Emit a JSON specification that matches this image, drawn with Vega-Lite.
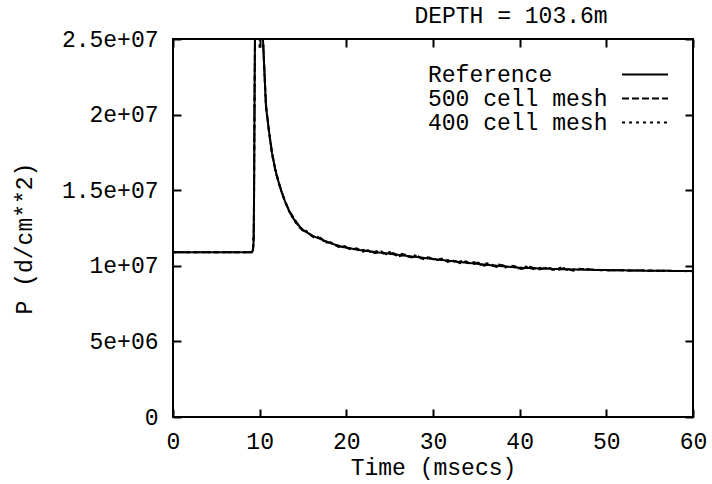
{
  "$schema": "https://vega.github.io/schema/vega-lite/v6.json",
  "width": 520,
  "height": 378,
  "autosize": "none",
  "padding": {"left": 173, "top": 39, "right": 19, "bottom": 67},
  "background": "white",
  "config": {
    "view": {"stroke": "black", "strokeWidth": 2},
    "font": "Liberation Mono",
    "axis": {"grid": false, "domain": false, "tickColor": "black", "tickWidth": 2, "tickSize": -8, "labelColor": "black", "titleColor": "black", "labelFont": "Liberation Mono", "titleFont": "Liberation Mono", "labelFontSize": 23, "titleFontSize": 23, "titleFontWeight": "normal", "labelFlush": false, "labelOverlap": false}
  },
  "title": {"text": "DEPTH = 103.6m", "anchor": "middle", "dx": 78, "offset": 0, "font": "Liberation Mono", "fontSize": 23, "fontWeight": "normal", "color": "black"},
  "data": {"values": [
    {"series": "Reference", "t": 0, "P": 10900000},
    {"series": "Reference", "t": 9.1, "P": 10900000},
    {"series": "Reference", "t": 9.22, "P": 11000000},
    {"series": "Reference", "t": 9.3, "P": 11600000},
    {"series": "Reference", "t": 9.36, "P": 15000000},
    {"series": "Reference", "t": 9.42, "P": 22000000},
    {"series": "Reference", "t": 9.5, "P": 29000000},
    {"series": "Reference", "t": 9.7, "P": 34000000},
    {"series": "Reference", "t": 10.15, "P": 32000000},
    {"series": "Reference", "t": 10.28, "P": 27000000},
    {"series": "Reference", "t": 10.38, "P": 25000000},
    {"series": "Reference", "t": 10.73, "P": 20500000},
    {"series": "Reference", "t": 11.08, "P": 18900000},
    {"series": "Reference", "t": 11.42, "P": 17450000},
    {"series": "Reference", "t": 11.85, "P": 16250000},
    {"series": "Reference", "t": 12.35, "P": 15200000},
    {"series": "Reference", "t": 12.9, "P": 14300000},
    {"series": "Reference", "t": 13.5, "P": 13500000},
    {"series": "Reference", "t": 14.2, "P": 12850000},
    {"series": "Reference", "t": 15.0, "P": 12370000},
    {"series": "Reference", "t": 16.1, "P": 11980000},
    {"series": "Reference", "t": 17.3, "P": 11700000},
    {"series": "Reference", "t": 18.4, "P": 11450000},
    {"series": "Reference", "t": 19.6, "P": 11240000},
    {"series": "Reference", "t": 21.5, "P": 11040000},
    {"series": "Reference", "t": 23.5, "P": 10900000},
    {"series": "Reference", "t": 26.2, "P": 10710000},
    {"series": "Reference", "t": 29.5, "P": 10480000},
    {"series": "Reference", "t": 33.1, "P": 10250000},
    {"series": "Reference", "t": 36.5, "P": 10050000},
    {"series": "Reference", "t": 40.0, "P": 9870000},
    {"series": "Reference", "t": 44.5, "P": 9780000},
    {"series": "Reference", "t": 49.3, "P": 9720000},
    {"series": "Reference", "t": 54.5, "P": 9680000},
    {"series": "Reference", "t": 60.0, "P": 9650000},

    {"series": "500 cell mesh", "t": 0, "P": 10900000},
    {"series": "500 cell mesh", "t": 9.1, "P": 10900000},
    {"series": "500 cell mesh", "t": 9.24, "P": 11100000},
    {"series": "500 cell mesh", "t": 9.32, "P": 12000000},
    {"series": "500 cell mesh", "t": 9.4, "P": 20000000},
    {"series": "500 cell mesh", "t": 9.5, "P": 28000000},
    {"series": "500 cell mesh", "t": 9.8, "P": 31000000},
    {"series": "500 cell mesh", "t": 10.2, "P": 30000000},
    {"series": "500 cell mesh", "t": 10.38, "P": 25000000},
    {"series": "500 cell mesh", "t": 10.73, "P": 20700000},
    {"series": "500 cell mesh", "t": 11.08, "P": 18800000},
    {"series": "500 cell mesh", "t": 11.42, "P": 17550000},
    {"series": "500 cell mesh", "t": 11.85, "P": 16150000},
    {"series": "500 cell mesh", "t": 12.35, "P": 15250000},
    {"series": "500 cell mesh", "t": 12.9, "P": 14250000},
    {"series": "500 cell mesh", "t": 13.5, "P": 13550000},
    {"series": "500 cell mesh", "t": 14.2, "P": 12930000},
    {"series": "500 cell mesh", "t": 14.9, "P": 12350000},
    {"series": "500 cell mesh", "t": 15.6, "P": 12200000},
    {"series": "500 cell mesh", "t": 16.3, "P": 11840000},
    {"series": "500 cell mesh", "t": 17.0, "P": 11850000},
    {"series": "500 cell mesh", "t": 17.7, "P": 11540000},
    {"series": "500 cell mesh", "t": 18.4, "P": 11530000},
    {"series": "500 cell mesh", "t": 19.1, "P": 11250000},
    {"series": "500 cell mesh", "t": 19.8, "P": 11300000},
    {"series": "500 cell mesh", "t": 20.5, "P": 11060000},
    {"series": "500 cell mesh", "t": 21.2, "P": 11150000},
    {"series": "500 cell mesh", "t": 21.9, "P": 10930000},
    {"series": "500 cell mesh", "t": 22.6, "P": 11040000},
    {"series": "500 cell mesh", "t": 23.3, "P": 10830000},
    {"series": "500 cell mesh", "t": 24.0, "P": 10950000},
    {"series": "500 cell mesh", "t": 24.7, "P": 10740000},
    {"series": "500 cell mesh", "t": 25.4, "P": 10850000},
    {"series": "500 cell mesh", "t": 26.1, "P": 10640000},
    {"series": "500 cell mesh", "t": 26.8, "P": 10750000},
    {"series": "500 cell mesh", "t": 27.5, "P": 10550000},
    {"series": "500 cell mesh", "t": 28.2, "P": 10650000},
    {"series": "500 cell mesh", "t": 28.9, "P": 10440000},
    {"series": "500 cell mesh", "t": 29.6, "P": 10550000},
    {"series": "500 cell mesh", "t": 30.3, "P": 10350000},
    {"series": "500 cell mesh", "t": 31.0, "P": 10470000},
    {"series": "500 cell mesh", "t": 31.7, "P": 10260000},
    {"series": "500 cell mesh", "t": 32.4, "P": 10380000},
    {"series": "500 cell mesh", "t": 33.1, "P": 10170000},
    {"series": "500 cell mesh", "t": 33.8, "P": 10290000},
    {"series": "500 cell mesh", "t": 34.5, "P": 10090000},
    {"series": "500 cell mesh", "t": 35.2, "P": 10210000},
    {"series": "500 cell mesh", "t": 35.9, "P": 10010000},
    {"series": "500 cell mesh", "t": 36.6, "P": 10130000},
    {"series": "500 cell mesh", "t": 37.3, "P": 9930000},
    {"series": "500 cell mesh", "t": 38.0, "P": 10050000},
    {"series": "500 cell mesh", "t": 38.7, "P": 9860000},
    {"series": "500 cell mesh", "t": 39.4, "P": 9980000},
    {"series": "500 cell mesh", "t": 40.2, "P": 9790000},
    {"series": "500 cell mesh", "t": 41.2, "P": 9930000},
    {"series": "500 cell mesh", "t": 42.2, "P": 9750000},
    {"series": "500 cell mesh", "t": 43.2, "P": 9890000},
    {"series": "500 cell mesh", "t": 44.2, "P": 9710000},
    {"series": "500 cell mesh", "t": 45.2, "P": 9850000},
    {"series": "500 cell mesh", "t": 46.2, "P": 9680000},
    {"series": "500 cell mesh", "t": 47.2, "P": 9790000},
    {"series": "500 cell mesh", "t": 49.3, "P": 9720000},
    {"series": "500 cell mesh", "t": 54.5, "P": 9680000},
    {"series": "500 cell mesh", "t": 60.0, "P": 9650000},

    {"series": "400 cell mesh", "t": 0, "P": 10900000},
    {"series": "400 cell mesh", "t": 9.1, "P": 10900000},
    {"series": "400 cell mesh", "t": 9.25, "P": 11150000},
    {"series": "400 cell mesh", "t": 9.34, "P": 13000000},
    {"series": "400 cell mesh", "t": 9.42, "P": 22000000},
    {"series": "400 cell mesh", "t": 9.52, "P": 29000000},
    {"series": "400 cell mesh", "t": 9.75, "P": 29500000},
    {"series": "400 cell mesh", "t": 10.0, "P": 24300000},
    {"series": "400 cell mesh", "t": 10.12, "P": 28000000},
    {"series": "400 cell mesh", "t": 10.25, "P": 27000000},
    {"series": "400 cell mesh", "t": 10.4, "P": 24800000},
    {"series": "400 cell mesh", "t": 10.73, "P": 20400000},
    {"series": "400 cell mesh", "t": 11.08, "P": 18950000},
    {"series": "400 cell mesh", "t": 11.42, "P": 17350000},
    {"series": "400 cell mesh", "t": 11.85, "P": 16300000},
    {"series": "400 cell mesh", "t": 12.35, "P": 15150000},
    {"series": "400 cell mesh", "t": 12.9, "P": 14350000},
    {"series": "400 cell mesh", "t": 13.5, "P": 13450000},
    {"series": "400 cell mesh", "t": 14.55, "P": 12530000},
    {"series": "400 cell mesh", "t": 15.25, "P": 12370000},
    {"series": "400 cell mesh", "t": 15.95, "P": 12000000},
    {"series": "400 cell mesh", "t": 16.65, "P": 11930000},
    {"series": "400 cell mesh", "t": 17.35, "P": 11640000},
    {"series": "400 cell mesh", "t": 18.05, "P": 11600000},
    {"series": "400 cell mesh", "t": 18.75, "P": 11330000},
    {"series": "400 cell mesh", "t": 19.45, "P": 11350000},
    {"series": "400 cell mesh", "t": 20.15, "P": 11120000},
    {"series": "400 cell mesh", "t": 20.85, "P": 11190000},
    {"series": "400 cell mesh", "t": 21.55, "P": 10990000},
    {"series": "400 cell mesh", "t": 22.25, "P": 11080000},
    {"series": "400 cell mesh", "t": 22.95, "P": 10880000},
    {"series": "400 cell mesh", "t": 23.65, "P": 10990000},
    {"series": "400 cell mesh", "t": 24.35, "P": 10790000},
    {"series": "400 cell mesh", "t": 25.05, "P": 10900000},
    {"series": "400 cell mesh", "t": 25.75, "P": 10690000},
    {"series": "400 cell mesh", "t": 26.45, "P": 10800000},
    {"series": "400 cell mesh", "t": 27.15, "P": 10600000},
    {"series": "400 cell mesh", "t": 27.85, "P": 10700000},
    {"series": "400 cell mesh", "t": 28.55, "P": 10490000},
    {"series": "400 cell mesh", "t": 29.25, "P": 10600000},
    {"series": "400 cell mesh", "t": 29.95, "P": 10400000},
    {"series": "400 cell mesh", "t": 30.65, "P": 10510000},
    {"series": "400 cell mesh", "t": 31.35, "P": 10310000},
    {"series": "400 cell mesh", "t": 32.05, "P": 10420000},
    {"series": "400 cell mesh", "t": 32.75, "P": 10220000},
    {"series": "400 cell mesh", "t": 33.45, "P": 10330000},
    {"series": "400 cell mesh", "t": 34.15, "P": 10140000},
    {"series": "400 cell mesh", "t": 34.85, "P": 10250000},
    {"series": "400 cell mesh", "t": 35.55, "P": 10060000},
    {"series": "400 cell mesh", "t": 36.25, "P": 10170000},
    {"series": "400 cell mesh", "t": 36.95, "P": 9980000},
    {"series": "400 cell mesh", "t": 37.65, "P": 10090000},
    {"series": "400 cell mesh", "t": 38.35, "P": 9900000},
    {"series": "400 cell mesh", "t": 39.05, "P": 10020000},
    {"series": "400 cell mesh", "t": 39.8, "P": 9830000},
    {"series": "400 cell mesh", "t": 40.7, "P": 9950000},
    {"series": "400 cell mesh", "t": 41.7, "P": 9770000},
    {"series": "400 cell mesh", "t": 42.7, "P": 9910000},
    {"series": "400 cell mesh", "t": 43.7, "P": 9730000},
    {"series": "400 cell mesh", "t": 44.7, "P": 9870000},
    {"series": "400 cell mesh", "t": 45.7, "P": 9700000},
    {"series": "400 cell mesh", "t": 46.7, "P": 9810000},
    {"series": "400 cell mesh", "t": 49.3, "P": 9710000},
    {"series": "400 cell mesh", "t": 54.5, "P": 9690000},
    {"series": "400 cell mesh", "t": 60.0, "P": 9640000}
  ]},
  "resolve": {"axis": {"x": "independent", "y": "independent"}},
  "layer": [
    {
      "mark": {"type": "line", "clip": true, "strokeWidth": 2, "color": "black", "interpolate": "linear"},
      "encoding": {
        "x": {"field": "t", "type": "quantitative", "scale": {"domain": [0, 60], "nice": false, "zero": false},
          "axis": {"orient": "bottom", "values": [0, 10, 20, 30, 40, 50, 60], "title": "Time (msecs)", "labelPadding": 21, "titlePadding": 3}},
        "y": {"field": "P", "type": "quantitative", "scale": {"domain": [0, 25000000], "nice": false},
          "axis": {"orient": "left", "values": [0, 5000000, 10000000, 15000000, 20000000, 25000000], "title": "P (d/cm**2)", "labelPadding": 23, "titlePadding": 25, "titleY": 199,
            "labelExpr": "datum.value == 0 ? '0' : replace(format(datum.value, '~e'), 'e+', 'e+0')"}},
        "strokeDash": {"field": "series", "type": "nominal",
          "scale": {"domain": ["Reference", "500 cell mesh", "400 cell mesh"], "range": [[1, 0], [7, 3], [3, 4]]},
          "legend": {"orient": "none", "legendX": 255, "legendY": 24, "title": null, "padding": 0,
            "symbolType": "M-4,0H4", "symbolSize": 132, "symbolStrokeWidth": 2, "symbolStrokeColor": "black",
            "labelFont": "Liberation Mono", "labelFontSize": 23, "labelColor": "black", "labelLimit": 400, "rowPadding": -1.5,
            "encode": {
              "symbols": {"update": {"x": {"value": 217}}},
              "labels": {"update": {"x": {"value": 0}, "align": {"value": "left"}}}
            }}},
        "detail": {"field": "series"}
      }
    },
    {
      "mark": {"type": "point", "opacity": 0, "clip": true},
      "encoding": {
        "x": {"field": "t", "type": "quantitative",
          "axis": {"orient": "top", "values": [0, 10, 20, 30, 40, 50, 60], "labels": false, "title": null}},
        "y": {"field": "P", "type": "quantitative",
          "axis": {"orient": "right", "values": [0, 5000000, 10000000, 15000000, 20000000, 25000000], "labels": false, "title": null}}
      }
    }
  ]
}
